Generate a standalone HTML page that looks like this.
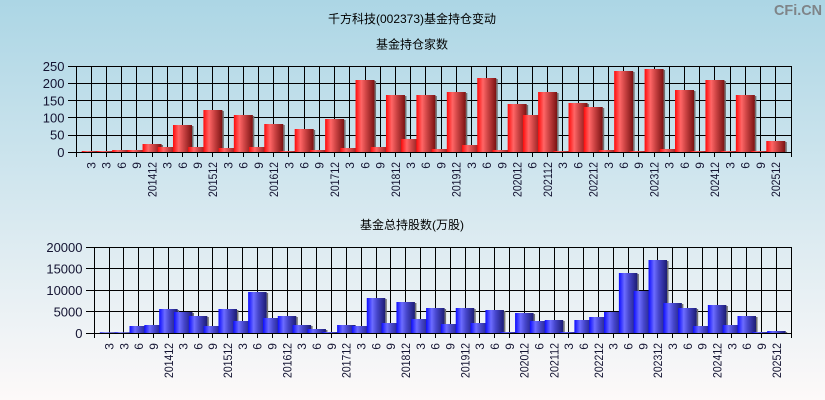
<!DOCTYPE html>
<html><head><meta charset="utf-8"><style>
html,body{margin:0;padding:0;width:825px;height:400px;overflow:hidden}
svg{display:block}
.t{font-family:"Liberation Sans","Noto Sans CJK SC",sans-serif;font-size:12px;fill:#000}
.yl{font-family:"Liberation Sans",sans-serif;font-size:13px;fill:#141432}
.xl{font-family:"Liberation Sans",sans-serif;font-size:12px;fill:#141432}
</style></head><body>
<svg width="825" height="400" viewBox="0 0 825 400" xmlns="http://www.w3.org/2000/svg">
<defs>
<linearGradient id="bg" x1="0" y1="0" x2="0" y2="1"><stop offset="0" stop-color="#acd6e5"/><stop offset="1" stop-color="#fdf9f9"/></linearGradient>
<linearGradient id="r" x1="0" y1="0" x2="1" y2="0"><stop offset="0" stop-color="#ff0a0a"/><stop offset="0.3" stop-color="#ff6666"/><stop offset="0.55" stop-color="#cf4545"/><stop offset="1" stop-color="#7a1212"/></linearGradient>
<linearGradient id="b" x1="0" y1="0" x2="1" y2="0"><stop offset="0" stop-color="#0c0cff"/><stop offset="0.3" stop-color="#6c6cff"/><stop offset="0.55" stop-color="#4646cc"/><stop offset="1" stop-color="#1c1c74"/></linearGradient>
</defs>
<rect x="0" y="0" width="825" height="400" fill="url(#bg)"/>
<text x="822" y="15" text-anchor="end" font-family="Liberation Sans,sans-serif" font-size="15" font-weight="bold" fill="#7f8488" textLength="48" lengthAdjust="spacingAndGlyphs">CFi.CN</text>
<text class="t" x="412" y="23" text-anchor="middle">千方科技(002373)基金持仓变动</text>
<text class="t" x="412" y="48.5" text-anchor="middle">基金持仓家数</text>
<text class="t" x="412" y="229" text-anchor="middle">基金总持股数(万股)</text>

<!-- TOP GRID -->
<g stroke="#000" stroke-width="1" fill="none" shape-rendering="crispEdges">
<path d="M68 66.5H791.5M68 83.5H791.5M68 100.5H791.5M68 117.5H791.5M68 135.5H791.5M68 152.5H791.5"/>
<path d="M76.5 66V157M791.5 66V157M91.5 66V157M106.5 66V157M121.5 66V157M136.5 66V157M152.5 66V157M167.5 66V157M182.5 66V157M197.5 66V157M212.5 66V157M228.5 66V157M243.5 66V157M258.5 66V157M273.5 66V157M288.5 66V157M304.5 66V157M319.5 66V157M334.5 66V157M349.5 66V157M365.5 66V157M380.5 66V157M395.5 66V157M410.5 66V157M425.5 66V157M441.5 66V157M456.5 66V157M471.5 66V157M486.5 66V157M501.5 66V157M517.5 66V157M532.5 66V157M547.5 66V157M562.5 66V157M578.5 66V157M593.5 66V157M608.5 66V157M623.5 66V157M638.5 66V157M654.5 66V157M669.5 66V157M684.5 66V157M699.5 66V157M714.5 66V157M730.5 66V157M745.5 66V157M760.5 66V157M775.5 66V157"/>
</g>
<!-- TOP BARS -->
<g>
<rect x="100.71" y="151.5" width="1.5" height="0.8" fill="#707070"/><rect x="81.71" y="151" width="19" height="1.3" fill="url(#r)"/>
<rect x="115.93" y="151.5" width="1.5" height="0.8" fill="#707070"/><rect x="96.93" y="151" width="19" height="1.3" fill="url(#r)"/>
<rect x="131.14" y="151" width="1.5" height="1.3" fill="#707070"/><rect x="112.14" y="150" width="19" height="2.3" fill="url(#r)"/>
<rect x="146.35" y="151" width="1.5" height="1.3" fill="#707070"/><rect x="127.35" y="150" width="19" height="2.3" fill="url(#r)"/>
<rect x="161.56" y="145" width="1.5" height="7.3" fill="#707070"/><rect x="142.56" y="144" width="19" height="8.3" fill="url(#r)"/>
<rect x="176.78" y="148" width="1.5" height="4.3" fill="#707070"/><rect x="157.78" y="147" width="19" height="5.3" fill="url(#r)"/>
<rect x="191.99" y="126" width="1.5" height="26.3" fill="#707070"/><rect x="172.99" y="125" width="19" height="27.3" fill="url(#r)"/>
<rect x="207.20" y="148" width="1.5" height="4.3" fill="#707070"/><rect x="188.20" y="147" width="19" height="5.3" fill="url(#r)"/>
<rect x="222.41" y="111" width="1.5" height="41.3" fill="#707070"/><rect x="203.41" y="110" width="19" height="42.3" fill="url(#r)"/>
<rect x="237.63" y="149" width="1.5" height="3.3" fill="#707070"/><rect x="218.63" y="148" width="19" height="4.3" fill="url(#r)"/>
<rect x="252.84" y="116" width="1.5" height="36.3" fill="#707070"/><rect x="233.84" y="115" width="19" height="37.3" fill="url(#r)"/>
<rect x="268.05" y="148" width="1.5" height="4.3" fill="#707070"/><rect x="249.05" y="147" width="19" height="5.3" fill="url(#r)"/>
<rect x="283.27" y="125" width="1.5" height="27.3" fill="#707070"/><rect x="264.27" y="124" width="19" height="28.3" fill="url(#r)"/>
<rect x="298.48" y="151.5" width="1.5" height="0.8" fill="#707070"/><rect x="279.48" y="151" width="19" height="1.3" fill="url(#r)"/>
<rect x="313.69" y="130" width="1.5" height="22.3" fill="#707070"/><rect x="294.69" y="129" width="19" height="23.3" fill="url(#r)"/>
<rect x="328.90" y="151" width="1.5" height="1.3" fill="#707070"/><rect x="309.90" y="150" width="19" height="2.3" fill="url(#r)"/>
<rect x="344.12" y="120" width="1.5" height="32.3" fill="#707070"/><rect x="325.12" y="119" width="19" height="33.3" fill="url(#r)"/>
<rect x="359.33" y="149" width="1.5" height="3.3" fill="#707070"/><rect x="340.33" y="148" width="19" height="4.3" fill="url(#r)"/>
<rect x="374.54" y="81" width="1.5" height="71.3" fill="#707070"/><rect x="355.54" y="80" width="19" height="72.3" fill="url(#r)"/>
<rect x="389.76" y="148" width="1.5" height="4.3" fill="#707070"/><rect x="370.76" y="147" width="19" height="5.3" fill="url(#r)"/>
<rect x="404.97" y="96" width="1.5" height="56.3" fill="#707070"/><rect x="385.97" y="95" width="19" height="57.3" fill="url(#r)"/>
<rect x="420.18" y="140" width="1.5" height="12.3" fill="#707070"/><rect x="401.18" y="139" width="19" height="13.3" fill="url(#r)"/>
<rect x="435.39" y="96" width="1.5" height="56.3" fill="#707070"/><rect x="416.39" y="95" width="19" height="57.3" fill="url(#r)"/>
<rect x="450.61" y="150" width="1.5" height="2.3" fill="#707070"/><rect x="431.61" y="149" width="19" height="3.3" fill="url(#r)"/>
<rect x="465.82" y="93" width="1.5" height="59.3" fill="#707070"/><rect x="446.82" y="92" width="19" height="60.3" fill="url(#r)"/>
<rect x="481.03" y="146" width="1.5" height="6.3" fill="#707070"/><rect x="462.03" y="145" width="19" height="7.3" fill="url(#r)"/>
<rect x="496.24" y="79" width="1.5" height="73.3" fill="#707070"/><rect x="477.24" y="78" width="19" height="74.3" fill="url(#r)"/>
<rect x="511.46" y="151" width="1.5" height="1.3" fill="#707070"/><rect x="492.46" y="150" width="19" height="2.3" fill="url(#r)"/>
<rect x="526.67" y="105" width="1.5" height="47.3" fill="#707070"/><rect x="507.67" y="104" width="19" height="48.3" fill="url(#r)"/>
<rect x="541.88" y="116" width="1.5" height="36.3" fill="#707070"/><rect x="522.88" y="115" width="19" height="37.3" fill="url(#r)"/>
<rect x="557.10" y="93" width="1.5" height="59.3" fill="#707070"/><rect x="538.10" y="92" width="19" height="60.3" fill="url(#r)"/>
<rect x="572.31" y="151.5" width="1.5" height="0.8" fill="#707070"/><rect x="553.31" y="151" width="19" height="1.3" fill="url(#r)"/>
<rect x="587.52" y="104" width="1.5" height="48.3" fill="#707070"/><rect x="568.52" y="103" width="19" height="49.3" fill="url(#r)"/>
<rect x="602.73" y="108" width="1.5" height="44.3" fill="#707070"/><rect x="583.73" y="107" width="19" height="45.3" fill="url(#r)"/>
<rect x="617.95" y="151" width="1.5" height="1.3" fill="#707070"/><rect x="598.95" y="150" width="19" height="2.3" fill="url(#r)"/>
<rect x="633.16" y="72" width="1.5" height="80.3" fill="#707070"/><rect x="614.16" y="71" width="19" height="81.3" fill="url(#r)"/>
<rect x="648.37" y="151.5" width="1.5" height="0.8" fill="#707070"/><rect x="629.37" y="151" width="19" height="1.3" fill="url(#r)"/>
<rect x="663.59" y="70" width="1.5" height="82.3" fill="#707070"/><rect x="644.59" y="69" width="19" height="83.3" fill="url(#r)"/>
<rect x="678.80" y="150" width="1.5" height="2.3" fill="#707070"/><rect x="659.80" y="149" width="19" height="3.3" fill="url(#r)"/>
<rect x="694.01" y="91" width="1.5" height="61.3" fill="#707070"/><rect x="675.01" y="90" width="19" height="62.3" fill="url(#r)"/>
<rect x="709.22" y="151.5" width="1.5" height="0.8" fill="#707070"/><rect x="690.22" y="151" width="19" height="1.3" fill="url(#r)"/>
<rect x="724.44" y="81" width="1.5" height="71.3" fill="#707070"/><rect x="705.44" y="80" width="19" height="72.3" fill="url(#r)"/>
<rect x="739.65" y="151.5" width="1.5" height="0.8" fill="#707070"/><rect x="720.65" y="151" width="19" height="1.3" fill="url(#r)"/>
<rect x="754.86" y="96" width="1.5" height="56.3" fill="#707070"/><rect x="735.86" y="95" width="19" height="57.3" fill="url(#r)"/>
<rect x="770.07" y="151.5" width="1.5" height="0.8" fill="#707070"/><rect x="751.07" y="151" width="19" height="1.3" fill="url(#r)"/>
<rect x="785.29" y="142" width="1.5" height="10.3" fill="#707070"/><rect x="766.29" y="141" width="19" height="11.3" fill="url(#r)"/>
</g>
<path d="M76 152.5H792" stroke="#000" stroke-width="1" shape-rendering="crispEdges"/>
<!-- TOP Y LABELS -->
<g class="yl" text-anchor="end">
<text x="64.5" y="71">250</text><text x="64.5" y="88.1">200</text><text x="64.5" y="105.3">150</text><text x="64.5" y="122.5">100</text><text x="64.5" y="139.7">50</text><text x="64.5" y="156.9">0</text>
</g>
<!-- TOP X LABELS -->
<g class="xl" text-anchor="end">
<text x="95.5" y="162" transform="rotate(-90 95.5 162)">3</text>
<text x="110.7" y="162" transform="rotate(-90 110.7 162)">3</text>
<text x="125.9" y="162" transform="rotate(-90 125.9 162)">6</text>
<text x="141.2" y="162" transform="rotate(-90 141.2 162)">9</text>
<text x="156.4" y="162" transform="rotate(-90 156.4 162)" textLength="35" lengthAdjust="spacingAndGlyphs">201412</text>
<text x="171.6" y="162" transform="rotate(-90 171.6 162)">3</text>
<text x="186.8" y="162" transform="rotate(-90 186.8 162)">6</text>
<text x="202.0" y="162" transform="rotate(-90 202.0 162)">9</text>
<text x="217.2" y="162" transform="rotate(-90 217.2 162)" textLength="35" lengthAdjust="spacingAndGlyphs">201512</text>
<text x="232.4" y="162" transform="rotate(-90 232.4 162)">3</text>
<text x="247.6" y="162" transform="rotate(-90 247.6 162)">6</text>
<text x="262.9" y="162" transform="rotate(-90 262.9 162)">9</text>
<text x="278.1" y="162" transform="rotate(-90 278.1 162)" textLength="35" lengthAdjust="spacingAndGlyphs">201612</text>
<text x="293.3" y="162" transform="rotate(-90 293.3 162)">3</text>
<text x="308.5" y="162" transform="rotate(-90 308.5 162)">6</text>
<text x="323.7" y="162" transform="rotate(-90 323.7 162)">9</text>
<text x="338.9" y="162" transform="rotate(-90 338.9 162)" textLength="35" lengthAdjust="spacingAndGlyphs">201712</text>
<text x="354.1" y="162" transform="rotate(-90 354.1 162)">3</text>
<text x="369.3" y="162" transform="rotate(-90 369.3 162)">6</text>
<text x="384.6" y="162" transform="rotate(-90 384.6 162)">9</text>
<text x="399.8" y="162" transform="rotate(-90 399.8 162)" textLength="35" lengthAdjust="spacingAndGlyphs">201812</text>
<text x="415.0" y="162" transform="rotate(-90 415.0 162)">3</text>
<text x="430.2" y="162" transform="rotate(-90 430.2 162)">6</text>
<text x="445.4" y="162" transform="rotate(-90 445.4 162)">9</text>
<text x="460.6" y="162" transform="rotate(-90 460.6 162)" textLength="35" lengthAdjust="spacingAndGlyphs">201912</text>
<text x="475.8" y="162" transform="rotate(-90 475.8 162)">3</text>
<text x="491.0" y="162" transform="rotate(-90 491.0 162)">6</text>
<text x="506.3" y="162" transform="rotate(-90 506.3 162)">9</text>
<text x="521.5" y="162" transform="rotate(-90 521.5 162)" textLength="35" lengthAdjust="spacingAndGlyphs">202012</text>
<text x="536.7" y="162" transform="rotate(-90 536.7 162)">6</text>
<text x="551.9" y="162" transform="rotate(-90 551.9 162)" textLength="35" lengthAdjust="spacingAndGlyphs">202112</text>
<text x="567.1" y="162" transform="rotate(-90 567.1 162)">3</text>
<text x="582.3" y="162" transform="rotate(-90 582.3 162)">6</text>
<text x="597.5" y="162" transform="rotate(-90 597.5 162)" textLength="35" lengthAdjust="spacingAndGlyphs">202212</text>
<text x="612.8" y="162" transform="rotate(-90 612.8 162)">3</text>
<text x="628.0" y="162" transform="rotate(-90 628.0 162)">6</text>
<text x="643.2" y="162" transform="rotate(-90 643.2 162)">9</text>
<text x="658.4" y="162" transform="rotate(-90 658.4 162)" textLength="35" lengthAdjust="spacingAndGlyphs">202312</text>
<text x="673.6" y="162" transform="rotate(-90 673.6 162)">3</text>
<text x="688.8" y="162" transform="rotate(-90 688.8 162)">6</text>
<text x="704.0" y="162" transform="rotate(-90 704.0 162)">9</text>
<text x="719.2" y="162" transform="rotate(-90 719.2 162)" textLength="35" lengthAdjust="spacingAndGlyphs">202412</text>
<text x="734.5" y="162" transform="rotate(-90 734.5 162)">3</text>
<text x="749.7" y="162" transform="rotate(-90 749.7 162)">6</text>
<text x="764.9" y="162" transform="rotate(-90 764.9 162)">9</text>
<text x="780.1" y="162" transform="rotate(-90 780.1 162)" textLength="35" lengthAdjust="spacingAndGlyphs">202512</text>
</g>

<!-- BOTTOM GRID -->
<g stroke="#000" stroke-width="1" fill="none" shape-rendering="crispEdges">
<path d="M86 247.5H791.5M86 268.5H791.5M86 290.5H791.5M86 311.5H791.5M86 333.5H791.5"/>
<path d="M94.5 247V338M791.5 247V338M109.5 247V338M123.5 247V338M138.5 247V338M153.5 247V338M168.5 247V338M183.5 247V338M198.5 247V338M212.5 247V338M227.5 247V338M242.5 247V338M257.5 247V338M272.5 247V338M287.5 247V338M301.5 247V338M316.5 247V338M331.5 247V338M346.5 247V338M361.5 247V338M376.5 247V338M390.5 247V338M405.5 247V338M420.5 247V338M435.5 247V338M450.5 247V338M465.5 247V338M479.5 247V338M494.5 247V338M509.5 247V338M524.5 247V338M539.5 247V338M554.5 247V338M568.5 247V338M583.5 247V338M598.5 247V338M613.5 247V338M628.5 247V338M643.5 247V338M657.5 247V338M672.5 247V338M687.5 247V338M702.5 247V338M717.5 247V338M731.5 247V338M746.5 247V338M761.5 247V338M776.5 247V338"/>
</g>
<!-- BOTTOM BARS -->
<g>
<rect x="118.33" y="332.8" width="1.5" height="0.5" fill="#707070"/><rect x="99.83" y="332.3" width="18.5" height="1" fill="url(#b)"/>
<rect x="133.16" y="332.8" width="1.5" height="0.5" fill="#707070"/><rect x="114.66" y="332.3" width="18.5" height="1" fill="url(#b)"/>
<rect x="147.99" y="327" width="1.5" height="6.3" fill="#707070"/><rect x="129.49" y="326" width="18.5" height="7.3" fill="url(#b)"/>
<rect x="162.82" y="326" width="1.5" height="7.3" fill="#707070"/><rect x="144.32" y="325" width="18.5" height="8.3" fill="url(#b)"/>
<rect x="177.65" y="310" width="1.5" height="23.3" fill="#707070"/><rect x="159.15" y="309" width="18.5" height="24.3" fill="url(#b)"/>
<rect x="192.48" y="313" width="1.5" height="20.3" fill="#707070"/><rect x="173.98" y="312" width="18.5" height="21.3" fill="url(#b)"/>
<rect x="207.31" y="317" width="1.5" height="16.3" fill="#707070"/><rect x="188.81" y="316" width="18.5" height="17.3" fill="url(#b)"/>
<rect x="222.14" y="327" width="1.5" height="6.3" fill="#707070"/><rect x="203.64" y="326" width="18.5" height="7.3" fill="url(#b)"/>
<rect x="236.97" y="310" width="1.5" height="23.3" fill="#707070"/><rect x="218.47" y="309" width="18.5" height="24.3" fill="url(#b)"/>
<rect x="251.80" y="322" width="1.5" height="11.3" fill="#707070"/><rect x="233.30" y="321" width="18.5" height="12.3" fill="url(#b)"/>
<rect x="266.63" y="293" width="1.5" height="40.3" fill="#707070"/><rect x="248.13" y="292" width="18.5" height="41.3" fill="url(#b)"/>
<rect x="281.46" y="319" width="1.5" height="14.3" fill="#707070"/><rect x="262.96" y="318" width="18.5" height="15.3" fill="url(#b)"/>
<rect x="296.29" y="317" width="1.5" height="16.3" fill="#707070"/><rect x="277.79" y="316" width="18.5" height="17.3" fill="url(#b)"/>
<rect x="311.12" y="326" width="1.5" height="7.3" fill="#707070"/><rect x="292.62" y="325" width="18.5" height="8.3" fill="url(#b)"/>
<rect x="325.95" y="330" width="1.5" height="3.3" fill="#707070"/><rect x="307.45" y="329" width="18.5" height="4.3" fill="url(#b)"/>
<rect x="340.78" y="332.5" width="1.5" height="0.8" fill="#707070"/><rect x="322.28" y="332" width="18.5" height="1.3" fill="url(#b)"/>
<rect x="355.61" y="326" width="1.5" height="7.3" fill="#707070"/><rect x="337.11" y="325" width="18.5" height="8.3" fill="url(#b)"/>
<rect x="370.44" y="327" width="1.5" height="6.3" fill="#707070"/><rect x="351.94" y="326" width="18.5" height="7.3" fill="url(#b)"/>
<rect x="385.27" y="299" width="1.5" height="34.3" fill="#707070"/><rect x="366.77" y="298" width="18.5" height="35.3" fill="url(#b)"/>
<rect x="400.10" y="324" width="1.5" height="9.3" fill="#707070"/><rect x="381.60" y="323" width="18.5" height="10.3" fill="url(#b)"/>
<rect x="414.93" y="303" width="1.5" height="30.3" fill="#707070"/><rect x="396.43" y="302" width="18.5" height="31.3" fill="url(#b)"/>
<rect x="429.76" y="320" width="1.5" height="13.3" fill="#707070"/><rect x="411.26" y="319" width="18.5" height="14.3" fill="url(#b)"/>
<rect x="444.59" y="309" width="1.5" height="24.3" fill="#707070"/><rect x="426.09" y="308" width="18.5" height="25.3" fill="url(#b)"/>
<rect x="459.42" y="325" width="1.5" height="8.3" fill="#707070"/><rect x="440.92" y="324" width="18.5" height="9.3" fill="url(#b)"/>
<rect x="474.25" y="309" width="1.5" height="24.3" fill="#707070"/><rect x="455.75" y="308" width="18.5" height="25.3" fill="url(#b)"/>
<rect x="489.08" y="324" width="1.5" height="9.3" fill="#707070"/><rect x="470.58" y="323" width="18.5" height="10.3" fill="url(#b)"/>
<rect x="503.91" y="311" width="1.5" height="22.3" fill="#707070"/><rect x="485.41" y="310" width="18.5" height="23.3" fill="url(#b)"/>
<rect x="518.74" y="332.5" width="1.5" height="0.8" fill="#707070"/><rect x="500.24" y="332" width="18.5" height="1.3" fill="url(#b)"/>
<rect x="533.57" y="314" width="1.5" height="19.3" fill="#707070"/><rect x="515.07" y="313" width="18.5" height="20.3" fill="url(#b)"/>
<rect x="548.40" y="322" width="1.5" height="11.3" fill="#707070"/><rect x="529.90" y="321" width="18.5" height="12.3" fill="url(#b)"/>
<rect x="563.23" y="321" width="1.5" height="12.3" fill="#707070"/><rect x="544.73" y="320" width="18.5" height="13.3" fill="url(#b)"/>
<rect x="578.06" y="332.5" width="1.5" height="0.8" fill="#707070"/><rect x="559.56" y="332" width="18.5" height="1.3" fill="url(#b)"/>
<rect x="592.89" y="321" width="1.5" height="12.3" fill="#707070"/><rect x="574.39" y="320" width="18.5" height="13.3" fill="url(#b)"/>
<rect x="607.72" y="318" width="1.5" height="15.3" fill="#707070"/><rect x="589.22" y="317" width="18.5" height="16.3" fill="url(#b)"/>
<rect x="622.55" y="313" width="1.5" height="20.3" fill="#707070"/><rect x="604.05" y="312" width="18.5" height="21.3" fill="url(#b)"/>
<rect x="637.38" y="274" width="1.5" height="59.3" fill="#707070"/><rect x="618.88" y="273" width="18.5" height="60.3" fill="url(#b)"/>
<rect x="652.21" y="292" width="1.5" height="41.3" fill="#707070"/><rect x="633.71" y="291" width="18.5" height="42.3" fill="url(#b)"/>
<rect x="667.04" y="261" width="1.5" height="72.3" fill="#707070"/><rect x="648.54" y="260" width="18.5" height="73.3" fill="url(#b)"/>
<rect x="681.87" y="304" width="1.5" height="29.3" fill="#707070"/><rect x="663.37" y="303" width="18.5" height="30.3" fill="url(#b)"/>
<rect x="696.70" y="309" width="1.5" height="24.3" fill="#707070"/><rect x="678.20" y="308" width="18.5" height="25.3" fill="url(#b)"/>
<rect x="711.53" y="327" width="1.5" height="6.3" fill="#707070"/><rect x="693.03" y="326" width="18.5" height="7.3" fill="url(#b)"/>
<rect x="726.36" y="306" width="1.5" height="27.3" fill="#707070"/><rect x="707.86" y="305" width="18.5" height="28.3" fill="url(#b)"/>
<rect x="741.19" y="326" width="1.5" height="7.3" fill="#707070"/><rect x="722.69" y="325" width="18.5" height="8.3" fill="url(#b)"/>
<rect x="756.02" y="317" width="1.5" height="16.3" fill="#707070"/><rect x="737.52" y="316" width="18.5" height="17.3" fill="url(#b)"/>
<rect x="770.85" y="332.5" width="1.5" height="0.8" fill="#707070"/><rect x="752.35" y="332" width="18.5" height="1.3" fill="url(#b)"/>
<rect x="785.68" y="332" width="1.5" height="1.3" fill="#707070"/><rect x="767.18" y="331" width="18.5" height="2.3" fill="url(#b)"/>
</g>
<path d="M94 333.5H792" stroke="#000" stroke-width="1" shape-rendering="crispEdges"/>
<!-- BOTTOM Y LABELS -->
<g class="yl" text-anchor="end">
<text x="82.5" y="251.9">20000</text><text x="82.5" y="273.4">15000</text><text x="82.5" y="294.9">10000</text><text x="82.5" y="316.4">5000</text><text x="82.5" y="337.9">0</text>
</g>
<!-- BOTTOM X LABELS -->
<g class="xl" text-anchor="end">
<text x="113.4" y="343" transform="rotate(-90 113.4 343)">3</text>
<text x="128.3" y="343" transform="rotate(-90 128.3 343)">3</text>
<text x="143.1" y="343" transform="rotate(-90 143.1 343)">6</text>
<text x="157.9" y="343" transform="rotate(-90 157.9 343)">9</text>
<text x="172.8" y="343" transform="rotate(-90 172.8 343)" textLength="35" lengthAdjust="spacingAndGlyphs">201412</text>
<text x="187.6" y="343" transform="rotate(-90 187.6 343)">3</text>
<text x="202.4" y="343" transform="rotate(-90 202.4 343)">6</text>
<text x="217.2" y="343" transform="rotate(-90 217.2 343)">9</text>
<text x="232.1" y="343" transform="rotate(-90 232.1 343)" textLength="35" lengthAdjust="spacingAndGlyphs">201512</text>
<text x="246.9" y="343" transform="rotate(-90 246.9 343)">3</text>
<text x="261.7" y="343" transform="rotate(-90 261.7 343)">6</text>
<text x="276.6" y="343" transform="rotate(-90 276.6 343)">9</text>
<text x="291.4" y="343" transform="rotate(-90 291.4 343)" textLength="35" lengthAdjust="spacingAndGlyphs">201612</text>
<text x="306.2" y="343" transform="rotate(-90 306.2 343)">3</text>
<text x="321.1" y="343" transform="rotate(-90 321.1 343)">6</text>
<text x="335.9" y="343" transform="rotate(-90 335.9 343)">9</text>
<text x="350.7" y="343" transform="rotate(-90 350.7 343)" textLength="35" lengthAdjust="spacingAndGlyphs">201712</text>
<text x="365.5" y="343" transform="rotate(-90 365.5 343)">3</text>
<text x="380.4" y="343" transform="rotate(-90 380.4 343)">6</text>
<text x="395.2" y="343" transform="rotate(-90 395.2 343)">9</text>
<text x="410.0" y="343" transform="rotate(-90 410.0 343)" textLength="35" lengthAdjust="spacingAndGlyphs">201812</text>
<text x="424.9" y="343" transform="rotate(-90 424.9 343)">3</text>
<text x="439.7" y="343" transform="rotate(-90 439.7 343)">6</text>
<text x="454.5" y="343" transform="rotate(-90 454.5 343)">9</text>
<text x="469.4" y="343" transform="rotate(-90 469.4 343)" textLength="35" lengthAdjust="spacingAndGlyphs">201912</text>
<text x="484.2" y="343" transform="rotate(-90 484.2 343)">3</text>
<text x="499.0" y="343" transform="rotate(-90 499.0 343)">6</text>
<text x="513.8" y="343" transform="rotate(-90 513.8 343)">9</text>
<text x="528.7" y="343" transform="rotate(-90 528.7 343)" textLength="35" lengthAdjust="spacingAndGlyphs">202012</text>
<text x="543.5" y="343" transform="rotate(-90 543.5 343)">6</text>
<text x="558.3" y="343" transform="rotate(-90 558.3 343)" textLength="35" lengthAdjust="spacingAndGlyphs">202112</text>
<text x="573.2" y="343" transform="rotate(-90 573.2 343)">3</text>
<text x="588.0" y="343" transform="rotate(-90 588.0 343)">6</text>
<text x="602.8" y="343" transform="rotate(-90 602.8 343)" textLength="35" lengthAdjust="spacingAndGlyphs">202212</text>
<text x="617.7" y="343" transform="rotate(-90 617.7 343)">3</text>
<text x="632.5" y="343" transform="rotate(-90 632.5 343)">6</text>
<text x="647.3" y="343" transform="rotate(-90 647.3 343)">9</text>
<text x="662.1" y="343" transform="rotate(-90 662.1 343)" textLength="35" lengthAdjust="spacingAndGlyphs">202312</text>
<text x="677.0" y="343" transform="rotate(-90 677.0 343)">3</text>
<text x="691.8" y="343" transform="rotate(-90 691.8 343)">6</text>
<text x="706.6" y="343" transform="rotate(-90 706.6 343)">9</text>
<text x="721.5" y="343" transform="rotate(-90 721.5 343)" textLength="35" lengthAdjust="spacingAndGlyphs">202412</text>
<text x="736.3" y="343" transform="rotate(-90 736.3 343)">3</text>
<text x="751.1" y="343" transform="rotate(-90 751.1 343)">6</text>
<text x="766.0" y="343" transform="rotate(-90 766.0 343)">9</text>
<text x="780.8" y="343" transform="rotate(-90 780.8 343)" textLength="35" lengthAdjust="spacingAndGlyphs">202512</text>
</g>
</svg>
</body></html>
